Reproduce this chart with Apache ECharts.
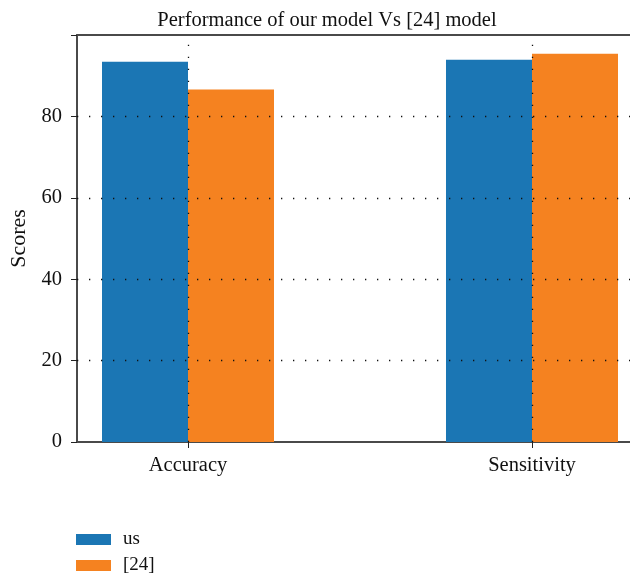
<!DOCTYPE html>
<html>
<head>
<meta charset="utf-8">
<script src="https://cdn.jsdelivr.net/npm/echarts@6/dist/echarts.min.js"></script>
<style>
  html, body { margin: 0; padding: 0; background: #fff; }
  #main { width: 630px; height: 575px; }
</style>
</head>
<body>
<div id="main"></div>
<script>
// data
var categories = ['Accuracy', 'Sensitivity'];
var usScores = [93.4, 93.9];
var refScores = [86.6, 95.4];
var yTicks = [20, 40, 60, 80];
var seriesNames = ['us', '[24]'];

var serif = '"Liberation Serif", "DejaVu Serif", serif';
var dots = { color: '#111', width: 1.3, type: [1.3, 10.7] };

// bars sit on a value axis so the two groups land where the picture has them
function pairs(vals) {
  return vals.map(function (v, i) { return [i, v]; });
}

var chart = echarts.init(document.getElementById('main'));
chart.setOption({
  animation: false,
  backgroundColor: '#fff',
  title: {
    text: 'Performance of our model Vs [24] model',
    left: 322,
    textAlign: 'center',
    top: 5,
    textStyle: { fontFamily: serif, fontWeight: 'normal', fontSize: 20.5, color: '#111' }
  },
  legend: {
    data: seriesNames,
    orient: 'vertical',
    left: 76,
    top: 530,
    height: 80,
    padding: 0,
    itemWidth: 35,
    itemHeight: 11,
    itemGap: 7,
    icon: 'rect',
    textStyle: { fontFamily: serif, fontSize: 19, color: '#111', padding: [0, 0, 0, 7] }
  },
  grid: { left: 77, right: 0, top: 35, bottom: 133 },
  xAxis: [{
    type: 'value',
    min: -0.3227,
    max: 1.2849,
    axisLine: { onZero: false, lineStyle: { color: '#4a4a4a', width: 2 } },
    axisTick: { customValues: [0, 1], length: 6, lineStyle: { color: '#222', width: 1 } },
    axisLabel: {
      customValues: [0, 1],
      formatter: function (v) { return categories[Math.round(v)]; },
      margin: 13,
      fontFamily: serif, fontSize: 20.5, color: '#111'
    },
    splitLine: { show: false }
  }, {
    type: 'value',
    position: 'top',
    min: -0.3227,
    max: 1.2849,
    axisLine: { show: true, onZero: false, lineStyle: { color: '#4a4a4a', width: 2 } },
    axisTick: { show: false },
    axisLabel: { show: false },
    splitLine: { show: false }
  }],
  yAxis: {
    type: 'value',
    min: 0,
    max: 100,
    interval: 20,
    name: 'Scores',
    nameLocation: 'middle',
    nameGap: 46,
    nameTextStyle: { fontFamily: serif, fontSize: 22, color: '#111' },
    axisLine: { show: true, onZero: false, lineStyle: { color: '#4a4a4a', width: 2 } },
    axisTick: { show: true, length: 6, lineStyle: { color: '#222', width: 1 } },
    axisLabel: {
      fontFamily: serif, fontSize: 20.5, color: '#111', margin: 15,
      formatter: function (v) { return v === 100 ? '' : v; }
    },
    splitLine: { show: false }
  },
  series: [{
    name: seriesNames[0],
    type: 'bar',
    barWidth: 86,
    barGap: '0%',
    itemStyle: { color: '#1b76b4' },
    data: pairs(usScores)
  }, {
    name: seriesNames[1],
    type: 'bar',
    barWidth: 86,
    barGap: '0%',
    itemStyle: { color: '#f58220' },
    data: pairs(refScores)
  }, {
    // empty carrier for the dotted grid, drawn over the bars as in the picture
    name: 'grid',
    type: 'line',
    data: [],
    z: 10,
    markLine: {
      silent: true,
      symbol: 'none',
      label: { show: false },
      lineStyle: dots,
      data: yTicks.map(function (t) { return { yAxis: t }; })
        .concat(categories.map(function (c, i) { return { xAxis: i }; }))
    }
  }]
});
</script>
</body>
</html>
